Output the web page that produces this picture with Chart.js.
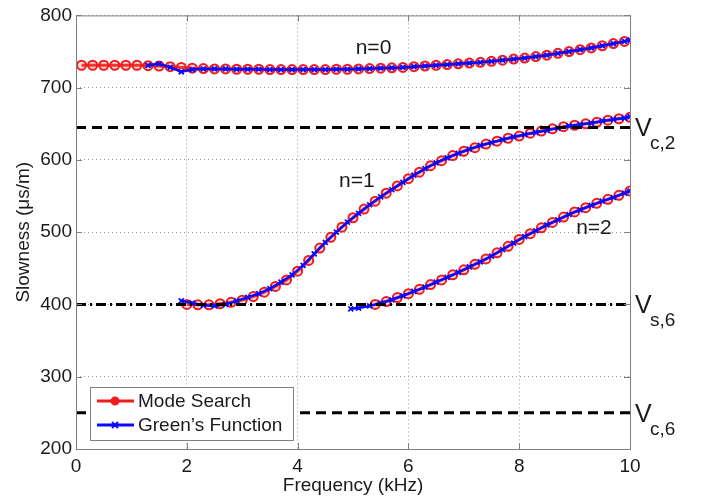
<!DOCTYPE html>
<html>
<head>
<meta charset="utf-8">
<script src="https://cdn.jsdelivr.net/npm/chart.js@4/dist/chart.umd.min.js"></script>
<style>
html,body{margin:0;background:#fff}
#wrap{width:704px;height:500px}
</style>
</head>
<body>
<div id="wrap"><canvas id="c" width="704" height="500"></canvas></div>
<script>
// frequency (kHz) / slowness (us/m)
const MS0_F=[0.1,0.3,0.5,0.7,0.9,1.1,1.3,1.5,1.7,1.9,2.1,2.3,2.5,2.7,2.9,3.1,3.3,3.5,3.7,3.9,4.1,4.3,4.5,4.7,4.9,5.1,5.3,5.5,5.7,5.9,6.1,6.3,6.5,6.7,6.9,7.1,7.3,7.5,7.7,7.9,8.1,8.3,8.5,8.7,8.9,9.1,9.3,9.5,9.7,9.9]
const MS0_S=[731,731,731,731,731,731,730.5,730,729,728,727,726.5,726,726,725.5,725.5,725.5,725,725,725,725,725,725,725.5,725.5,726,726.5,727,727.5,728,729,730,731,732,733,734,735,736.5,738,739.5,741,743,745,747.5,750,752.5,755,758,761,764]
const GF0_F=[1.3,1.5,1.7,1.9,2.1,2.3,2.5,2.7,2.9,3.1,3.3,3.5,3.7,3.9,4.1,4.3,4.5,4.7,4.9,5.1,5.3,5.5,5.7,5.9,6.1,6.3,6.5,6.7,6.9,7.1,7.3,7.5,7.7,7.9,8.1,8.3,8.5,8.7,8.9,9.1,9.3,9.5,9.7,9.9,10]
const GF0_S=[731,733,728,722,725,726,726,726,725.5,725.5,725.5,725,725,725,725,725,725,725.5,725.5,726,726.5,727,727.5,728,729,730,731,732,733,734,735,736.5,738,739.5,741,743,745,747.5,750,752.5,755,758,761,764,766]

const MS1_F=[2,2.2,2.4,2.6,2.8,3,3.2,3.4,3.6,3.8,4,4.2,4.4,4.6,4.8,5,5.2,5.4,5.6,5.8,6,6.2,6.4,6.6,6.8,7,7.2,7.4,7.6,7.8,8,8.2,8.4,8.6,8.8,9,9.2,9.4,9.6,9.8,10]
const MS1_S=[400,399.5,399.5,401,403,406,411,417,425,434,446,461,478,493,507,520,532,543,554,564,574,583,592,599,606,612,617,622,626,630,633,637,640,643,646,648,650,652,655,657,659]
const GF1_F=[1.9,2.1,2.3,2.5,2.7,2.9,3.1,3.3,3.5,3.7,3.9,4.1,4.3,4.5,4.7,4.9,5.1,5.3,5.5,5.7,5.9,6.1,6.3,6.5,6.7,6.9,7.1,7.3,7.5,7.7,7.9,8.1,8.3,8.5,8.7,8.9,9.1,9.3,9.5,9.7,9.9,10]
const GF1_S=[405,402,399,398,400,405,410,415,422,431,441,454,470,486,500,514,526,538,549,559,569,579,588,596,603,609,615,620,624,628,632,635,638,641,644,647,649,651,654,656,658,660]

const MS2_F=[5.4,5.6,5.8,6,6.2,6.4,6.6,6.8,7,7.2,7.4,7.6,7.8,8,8.2,8.4,8.6,8.8,9,9.2,9.4,9.6,9.8,10]
const MS2_S=[400,404,409.5,415,421,427.5,434,441,448,455.5,463,471.5,480.5,490,498,506,513.5,521,528,534,540,545.5,551,557]
const GF2_F=[4.96,5.1,5.3,5.5,5.7,5.9,6.1,6.3,6.5,6.7,6.9,7.1,7.3,7.5,7.7,7.9,8.1,8.3,8.5,8.7,8.9,9.1,9.3,9.5,9.7,9.9,10]
const GF2_S=[394,395,398,402,406.5,412,418,424,431,437.5,444.5,452,459,467,476,485,494,502,510,517,524.5,531,537,543,548,554,557]

// reference slowness levels
const REF_NAMES=['c,2','s,6','c,6']
const REF_VALS=[645,400,250]
const REF_DASH=[[10,6],[10,4,2,4],[10,6]]
const X_RANGE=[0,10]

// mode labels
const MODE_TXT=['n=0','n=1','n=2']
const MODE_X=[5.37,5.07,9.35]
const MODE_Y=[755,571,505]

const ff="'Liberation Sans', Arial, sans-serif"
const tc='#1a1a1a', gc='#a0a0a0', red='#f01c1c', blue='#0a0aff'
const pts=(F,S)=>F.map((f,i)=>({x:f,y:S[i]}))

const refSets=REF_VALS.map((v,i)=>({
  data:X_RANGE.map(x=>({x,y:v})), borderColor:'#000', borderWidth:3,
  borderDash:REF_DASH[i], pointRadius:0, fill:false
}))
const gfSet=(F,S)=>({data:pts(F,S),borderColor:blue,borderWidth:2.5,pointStyle:'crossRot',
  pointRadius:3.5,pointBorderColor:blue,pointBorderWidth:1.8,fill:false,tension:0})
const msSet=(F,S)=>({data:pts(F,S),borderColor:red,borderWidth:3,pointStyle:'circle',
  pointRadius:4.5,pointBorderColor:red,pointBackgroundColor:'rgba(255,120,120,0.25)',pointBorderWidth:2,fill:false,tension:0})

const deco={
  id:'deco',
  afterDraw(chart){
    const {ctx,chartArea:a,scales:{x,y}}=chart
    ctx.save()
    // box + inward ticks
    ctx.strokeStyle='#7f7f7f'; ctx.lineWidth=1
    ctx.strokeRect(a.left+0.5,a.top+0.5,a.right-a.left,a.bottom-a.top)
    ctx.beginPath()
    x.ticks.forEach(t=>{const p=Math.round(x.getPixelForValue(t.value))+0.5
      ctx.moveTo(p,a.bottom);ctx.lineTo(p,a.bottom-6);ctx.moveTo(p,a.top);ctx.lineTo(p,a.top+6)})
    y.ticks.forEach(t=>{const p=Math.round(y.getPixelForValue(t.value))+0.5
      ctx.moveTo(a.left,p);ctx.lineTo(a.left+6,p);ctx.moveTo(a.right,p);ctx.lineTo(a.right-6,p)})
    ctx.stroke()

    // mode labels
    ctx.fillStyle=tc; ctx.textAlign='center'; ctx.textBaseline='middle'
    ctx.font=`21px ${ff}`
    MODE_TXT.forEach((t,i)=>ctx.fillText(t,x.getPixelForValue(MODE_X[i]),y.getPixelForValue(MODE_Y[i])))

    // V labels on the right
    ctx.textAlign='left'; ctx.textBaseline='alphabetic'
    REF_VALS.forEach((v,i)=>{
      const py=y.getPixelForValue(v)
      ctx.font=`25px ${ff}`; ctx.fillText('V',a.right+5,py+9)
      ctx.font=`19px ${ff}`; ctx.fillText(REF_NAMES[i],a.right+20,py+22)
    })

    // legend
    const lx=a.left+14, ly=a.bottom-62, lw=203, lh=53
    ctx.fillStyle='#fff'; ctx.fillRect(lx,ly,lw,lh)
    ctx.strokeStyle='#7f7f7f'; ctx.strokeRect(lx+0.5,ly+0.5,lw,lh)
    const rows=[{c:red,t:'Mode Search',m:'o'},{c:blue,t:'Green’s Function',m:'x'}]
    rows.forEach((r,i)=>{
      const cy=ly+14+i*24
      ctx.strokeStyle=r.c; ctx.lineWidth=3
      ctx.beginPath(); ctx.moveTo(lx+7,cy); ctx.lineTo(lx+44,cy); ctx.stroke()
      ctx.lineWidth=2; ctx.beginPath()
      if(r.m==='o'){ctx.fillStyle=r.c; ctx.arc(lx+25,cy,3.5,0,Math.PI*2); ctx.fill(); ctx.stroke()}
      else {ctx.moveTo(lx+22,cy-3);ctx.lineTo(lx+28,cy+3);ctx.moveTo(lx+22,cy+3);ctx.lineTo(lx+28,cy-3);ctx.stroke()}
      ctx.fillStyle=tc; ctx.font=`19px ${ff}`; ctx.textBaseline='middle'
      ctx.fillText(r.t,lx+48,cy+1)
    })
    ctx.restore()
  }
}

new Chart(document.getElementById('c'),{
  type:'line',
  data:{datasets:[
    ...refSets,
    gfSet(GF0_F,GF0_S), gfSet(GF1_F,GF1_S), gfSet(GF2_F,GF2_S),
    msSet(MS0_F,MS0_S), msSet(MS1_F,MS1_S), msSet(MS2_F,MS2_S),
  ]},
  options:{
    responsive:false, animation:false,
    layout:{padding:{top:13,right:74,left:0,bottom:0}},
    plugins:{legend:{display:false},tooltip:{enabled:false}},
    scales:{
      x:{type:'linear',min:0,max:10,
        ticks:{stepSize:2,color:tc,font:{size:19,family:ff},padding:6,maxRotation:0},
        grid:{color:gc,drawTicks:false},border:{display:false,dash:[1,3]},
        title:{display:true,text:'Frequency (kHz)',color:tc,font:{size:19,family:ff},padding:{top:0,bottom:3}},
        afterFit:s=>{s.height=51}},
      y:{type:'linear',min:200,max:800,
        ticks:{stepSize:100,color:tc,font:{size:19,family:ff},padding:4},
        grid:{color:gc,drawTicks:false},border:{display:false,dash:[1,3]},
        title:{display:true,text:'Slowness (μs/m)',color:tc,font:{size:19,family:ff},padding:{top:12,bottom:0}},
        afterFit:s=>{s.width=76}}
    }
  },
  plugins:[deco]
})
</script>
</body>
</html>
